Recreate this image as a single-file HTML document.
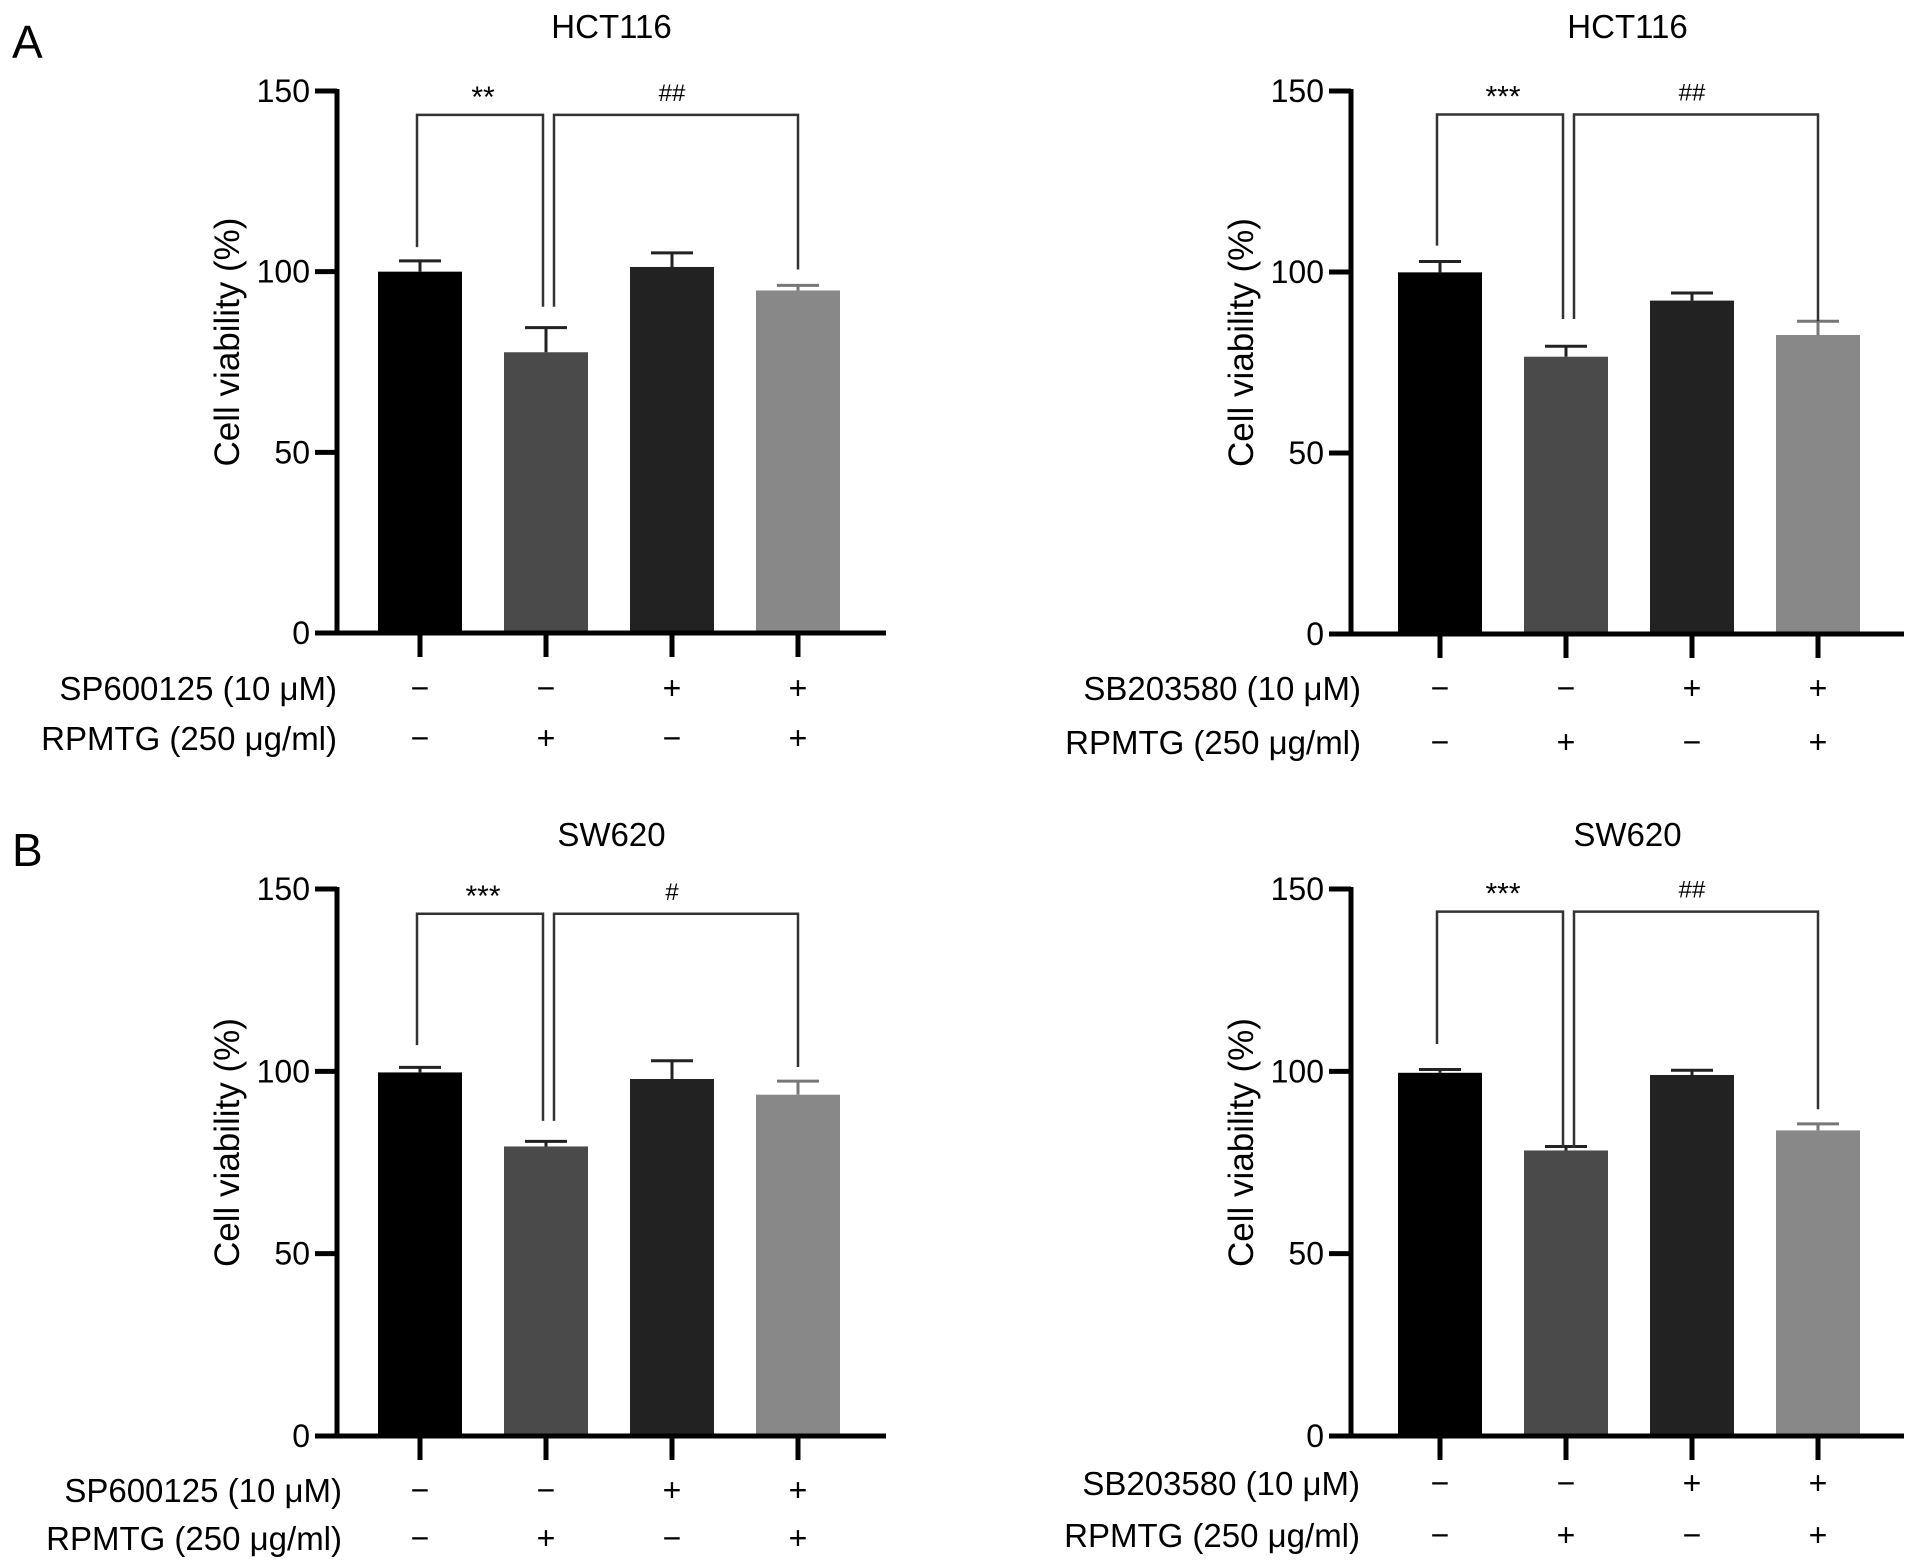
<!DOCTYPE html>
<html><head><meta charset="utf-8"><style>
html,body{margin:0;padding:0;background:#fff;}
svg{display:block;font-family:"Liberation Sans",Arial,sans-serif;}
</style></head><body>
<svg id="fig" width="1913" height="1567" viewBox="0 0 1913 1567" xmlns="http://www.w3.org/2000/svg">
<text x="12" y="58" font-size="46">A</text>
<text x="12" y="866" font-size="46">B</text>
</svg>
<script>
// Shared data
const yTicks = [0, 50, 100, 150];
const barColors = ["#000000", "#4a4a4a", "#222222", "#888888"];
const rpmtgRow = ["−", "+", "−", "+"];
const inhibRow = ["−", "−", "+", "+"];

// Panel A-left (HCT116, SP600125)
const aLeftMeans = [100, 77.7, 101.3, 94.8];
const aLeftErr = [103, 84.5, 105.2, 96.2];
const aLeftBr1 = [106.8, 90.3]; const aLeftBr2 = [90.3, 100.6]; const aLeftBrTop = [143.4];
const aLeftSig = ["**", "##"];
// Panel A-right (HCT116, SB203580)
const aRightMeans = [99.9, 76.6, 92.1, 82.6];
const aRightErr = [102.9, 79.5, 94.2, 86.4];
const aRightBr1 = [107.3, 87]; const aRightBr2 = [87, 86.4]; const aRightBrTop = [143.5];
const aRightSig = ["***", "##"];
// Panel B-left (SW620, SP600125)
const bLeftMeans = [99.7, 79.4, 97.9, 93.6];
const bLeftErr = [101.1, 80.8, 102.9, 97.3];
const bLeftBr1 = [107.2, 86.4]; const bLeftBr2 = [86.4, 101.2]; const bLeftBrTop = [143.2];
const bLeftSig = ["***", "#"];
// Panel B-right (SW620, SB203580)
const bRightMeans = [99.6, 78.3, 99.0, 83.8];
const bRightErr = [100.5, 79.4, 100.3, 85.6];
const bRightBr1 = [107.5, 79.0]; const bRightBr2 = [79.0, 89.6]; const bRightBrTop = [143.8];
const bRightSig = ["***", "##"];

const svg = document.getElementById('fig');
const NS = "http://www.w3.org/2000/svg";
function mk(tag, attrs, parent){
  const e = document.createElementNS(NS, tag);
  for (const k in attrs) e.setAttribute(k, attrs[k]);
  (parent||svg).appendChild(e); return e;
}

const panels = [
  {id:"a-left", title:"HCT116", inhib:"SP600125 (10 μM)", ax:337, y150:91, y0:633, x0:420, step:126, xEnd:886, rows:[688,738], labRight:337, means:aLeftMeans, err:aLeftErr, br1:aLeftBr1, br2:aLeftBr2, top:aLeftBrTop, sig:aLeftSig},
  {id:"a-right", title:"HCT116", inhib:"SB203580 (10 μM)", ax:1351, y150:91, y0:634, x0:1440, step:126, xEnd:1904, rows:[688,742], labRight:1361, means:aRightMeans, err:aRightErr, br1:aRightBr1, br2:aRightBr2, top:aRightBrTop, sig:aRightSig},
  {id:"b-left", title:"SW620", inhib:"SP600125 (10 μM)", ax:337, y150:889, y0:1436, x0:420, step:126, xEnd:886, rows:[1490,1538], labRight:342, means:bLeftMeans, err:bLeftErr, br1:bLeftBr1, br2:bLeftBr2, top:bLeftBrTop, sig:bLeftSig},
  {id:"b-right", title:"SW620", inhib:"SB203580 (10 μM)", ax:1351, y150:889, y0:1436, x0:1440, step:126, xEnd:1904, rows:[1483,1535], labRight:1360, means:bRightMeans, err:bRightErr, br1:bRightBr1, br2:bRightBr2, top:bRightBrTop, sig:bRightSig}
];

panels.forEach(p => {
  const g = mk('g', {});
  
  
  const y = v => p.y0 - (v/150)*(p.y0 - p.y150);
  const x = i => p.x0 + i*p.step;
  const bw = 84, cap = 42;

  const t = mk('text', {x:(p.ax+p.xEnd)/2, y:p.id.startsWith('a')?38:846, 'font-size':33, 'text-anchor':'middle'}, g);
  t.textContent = p.title;
  
  

  const yl = mk('text', {transform:`translate(${p.ax-98},${(p.y0+p.y150)/2-20}) rotate(-90)`, 'font-size':35, 'text-anchor':'middle'}, g);
  yl.textContent = "Cell viability (%)";
  
  

  // bars + error bars
  p.means.forEach((m, i) => {
    const eb = mk('path', {d:`M${x(i)} ${y(m)}V${y(p.err[i])}M${x(i)-cap/2} ${y(p.err[i])}H${x(i)+cap/2}`, stroke:barColors[i]==="#888888"?"#777":"#222", 'stroke-width':3, fill:'none'}, g);
    
    
    const r = mk('rect', {x:x(i)-bw/2, y:y(m), width:bw, height:y(0)-y(m), fill:barColors[i]}, g);
    
    
  });

  // axes
  const axl = mk('path', {d:`M${p.ax} ${y(150)-2}V${y(0)}H${p.xEnd}`, stroke:'#000', 'stroke-width':5, fill:'none'}, g);
  
  
  yTicks.forEach(v => {
    const tk = mk('path', {d:`M${p.ax-22} ${y(v)}H${p.ax}`, stroke:'#000', 'stroke-width':5}, g);
    
    
    const tl = mk('text', {x:p.ax-27, y:y(v)+11, 'font-size':32, 'text-anchor':'end'}, g);
    tl.textContent = v;
    
    
  });
  p.means.forEach((m, i) => {
    const tk = mk('path', {d:`M${x(i)} ${y(0)}V${y(0)+24}`, stroke:'#000', 'stroke-width':5}, g);
    
    
    const a = mk('text', {x:x(i), y:p.rows[0]+11, 'font-size':32, 'text-anchor':'middle'}, g);
    a.textContent = inhibRow[i];
    
    
    const b = mk('text', {x:x(i), y:p.rows[1]+11, 'font-size':32, 'text-anchor':'middle'}, g);
    b.textContent = rpmtgRow[i];
    
    
  });
  const r1 = mk('text', {x:p.labRight, y:p.rows[0]+12, 'font-size':33, 'text-anchor':'end'}, g);
  r1.textContent = p.inhib;
  
  
  const r2 = mk('text', {x:p.labRight, y:p.rows[1]+12, 'font-size':33, 'text-anchor':'end'}, g);
  r2.textContent = "RPMTG (250 μg/ml)";
  
  

  // brackets
  const topY = y(p.top[0]);
  const b1 = mk('path', {d:`M${x(0)-3} ${y(p.br1[0])}V${topY}H${x(1)-3}V${y(p.br1[1])}`, stroke:'#333', 'stroke-width':2.5, fill:'none'}, g);
  
  
  const b2 = mk('path', {d:`M${x(1)+8} ${y(p.br2[0])}V${topY}H${x(3)}V${y(p.br2[1])}`, stroke:'#333', 'stroke-width':2.5, fill:'none'}, g);
  
  
  const s1 = mk('text', {x:(x(0)+x(1))/2, y:topY-8, 'font-size':30, 'text-anchor':'middle'}, g);
  s1.textContent = p.sig[0];
  
  
  const s2 = mk('text', {x:(x(1)+x(3))/2, y:topY-14, 'font-size':24, 'text-anchor':'middle'}, g);
  s2.textContent = p.sig[1];
  
  
});
</script>
</body></html>
